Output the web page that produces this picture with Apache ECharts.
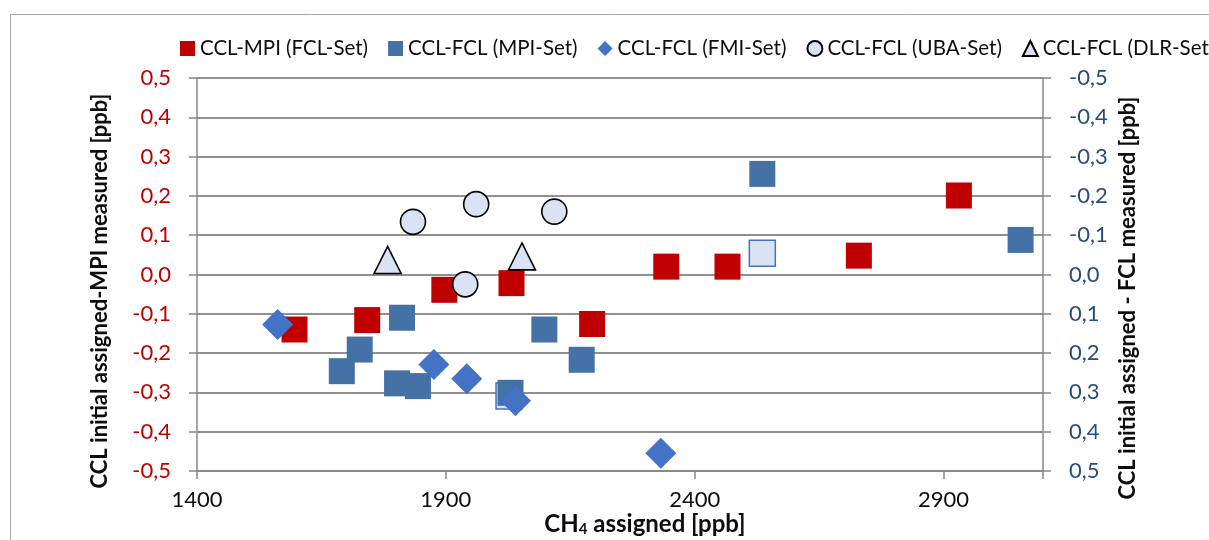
<!DOCTYPE html>
<html>
<head>
<meta charset="utf-8">
<script src="https://cdn.jsdelivr.net/npm/echarts@6/dist/echarts.min.js"></script>
<style>
html,body{margin:0;padding:0;background:#fff;}
#chart{width:1209px;height:540px;}
</style>
</head>
<body>
<div id="chart"></div>
<script>
// ---- data (x = CH4 assigned [ppb], y = CCL difference [ppb]) ----
const xTicks = [1400, 1900, 2400, 2900];
const xMax = 3100;
const yTicks = [-0.5, -0.4, -0.3, -0.2, -0.1, 0.0, 0.1, 0.2, 0.3, 0.4, 0.5];

const seriesNames = ['CCL-MPI (FCL-Set)', 'CCL-FCL (MPI-Set)', 'CCL-FCL (FMI-Set)', 'CCL-FCL (UBA-Set)', 'CCL-FCL (DLR-Set)'];

// left axis
const mpiFclSet = [[1596,-0.140],[1742,-0.116],[1897,-0.039],[2032,-0.022],[2194,-0.126],[2343,0.020],[2466,0.020],[2730,0.048],[2931,0.201]];
// right axis (inverted)
const fclMpiSetLight = [[2027,0.309],[2536,-0.054]];
const fclMpiSet = [[1691,0.246],[1727,0.191],[1802,0.277],[1812,0.110],[1844,0.284],[2030,0.301],[2098,0.140],[2173,0.217],[2536,-0.256],[3055,-0.088]];
const fclFmiSet = [[1562,0.127],[1876,0.229],[1942,0.265],[2040,0.321],[2332,0.455]];
const fclUbaSet = [[1834,-0.134],[1939,0.025],[1961,-0.179],[2118,-0.160]];
const fclDlrSet = [[1783,-0.037],[2053,-0.046]];

const FONT = 'Lato, "Open Sans", sans-serif';
const GRID_C = '#888888';

function fmt(v){
  let r = Math.round(v*10)/10;
  if (Math.abs(r) < 1e-9) r = 0;
  return r.toFixed(1).replace('.', ',');
}

const chart = echarts.init(document.getElementById('chart'), null, {renderer:'canvas'});

const lightItems = fclMpiSetLight.map(d => ({value:d, itemStyle:{color:'#DAE3F3', borderColor:'#4472C4', borderWidth:1.5}}));

const option = {
  backgroundColor:'#ffffff',
  animation:false,
  legend:{
    left:175, top:33, width:1400,
    itemWidth:15, itemHeight:15, itemGap:20,
    textStyle:{fontFamily:FONT, fontSize:20.5, color:'#0d0d0d'},
    data:seriesNames
  },
  grid:{left:197, right:166, top:78, bottom:69},
  xAxis:{
    type:'value', min:xTicks[0], max:xMax, interval:xTicks[1]-xTicks[0],
    axisLine:{show:true, onZero:false, lineStyle:{color:GRID_C, width:1.5}},
    axisTick:{show:true, length:8, lineStyle:{color:GRID_C, width:1.5}},
    splitLine:{show:false},
    axisLabel:{fontFamily:FONT, fontSize:22, color:'#0d0d0d', margin:18,
      formatter:v => (v === xMax ? '' : String(v))}
  },
  yAxis:[{
    type:'value', min:yTicks[0], max:yTicks[yTicks.length-1], interval:0.1, position:'left',
    axisLine:{show:true, onZero:false, lineStyle:{color:GRID_C, width:1.5}},
    axisTick:{show:true, length:8, lineStyle:{color:GRID_C, width:1.5}},
    splitLine:{show:true, lineStyle:{color:GRID_C, width:1.5, type:'solid'}},
    axisLabel:{fontFamily:FONT, fontSize:22, color:'#C00000', margin:26, formatter:fmt}
  },{
    type:'value', min:yTicks[0], max:yTicks[yTicks.length-1], interval:0.1, position:'right', inverse:true,
    axisLine:{show:true, onZero:false, lineStyle:{color:GRID_C, width:1.5}},
    axisTick:{show:true, length:8, lineStyle:{color:GRID_C, width:1.5}},
    splitLine:{show:false},
    axisLabel:{fontFamily:FONT, fontSize:22, color:'#264D7E', margin:26, formatter:fmt}
  }],
  series:[
    {name:seriesNames[0], type:'scatter', yAxisIndex:0, symbol:'rect', symbolSize:26, z:2,
     itemStyle:{color:'#C00000', opacity:1}, data:mpiFclSet,
     markLine:{silent:true, z:1, symbol:['none','none'], animation:false, precision:3,
       label:{show:false}, emphasis:{disabled:true},
       lineStyle:{color:GRID_C, width:1.5, type:'solid', opacity:1},
       data:yTicks.map(v => ({yAxis:v}))}},
    {name:seriesNames[1], type:'scatter', yAxisIndex:1, symbol:'rect', symbolSize:26, z:3,
     itemStyle:{color:'#4471A6', opacity:1}, data:lightItems.concat(fclMpiSet)},
    {name:seriesNames[2], type:'scatter', yAxisIndex:1, symbol:'diamond', symbolSize:31, z:3,
     itemStyle:{color:'#4472C4', opacity:1}, data:fclFmiSet},
    {name:seriesNames[3], type:'scatter', yAxisIndex:1, symbol:'circle', symbolSize:25, z:3,
     itemStyle:{color:'#DAE3F3', borderColor:'#000', borderWidth:1.6, opacity:1}, data:fclUbaSet},
    {name:seriesNames[4], type:'scatter', yAxisIndex:1, symbol:'triangle', symbolSize:[27,27], z:3,
     itemStyle:{color:'#DAE3F3', borderColor:'#000', borderWidth:1.6, opacity:1}, data:fclDlrSet}
  ],
  graphic:[
    {type:'rect', silent:true, z:100, shape:{x:10.5, y:14.5, width:1400, height:700},
     style:{fill:'transparent', stroke:'#a6a6a6', lineWidth:1}},
    {type:'text', silent:true, x:100, y:291, rotation:Math.PI/2,
     style:{text:'CCL initial assigned-MPI measured [ppb]', fontFamily:FONT, fontWeight:'bold', fontSize:22,
       fill:'#0d0d0d', align:'center', verticalAlign:'middle'}},
    {type:'text', silent:true, x:1128, y:298, rotation:Math.PI/2,
     style:{text:'CCL initial assigned - FCL measured [ppb]', fontFamily:FONT, fontWeight:'bold', fontSize:22,
       fill:'#0d0d0d', align:'center', verticalAlign:'middle'}},
    {type:'text', silent:true, x:645, y:524,
     style:{text:'CH{sub|4} assigned [ppb]', fontFamily:FONT, fontWeight:'bold', fontSize:24,
       fill:'#0d0d0d', align:'center', verticalAlign:'middle',
       rich:{sub:{fontFamily:FONT, fontWeight:'bold', fontSize:15, fill:'#0d0d0d', verticalAlign:'bottom', padding:[10,0,0,0]}}}}
  ]
};
chart.setOption(option);
</script>
</body>
</html>
